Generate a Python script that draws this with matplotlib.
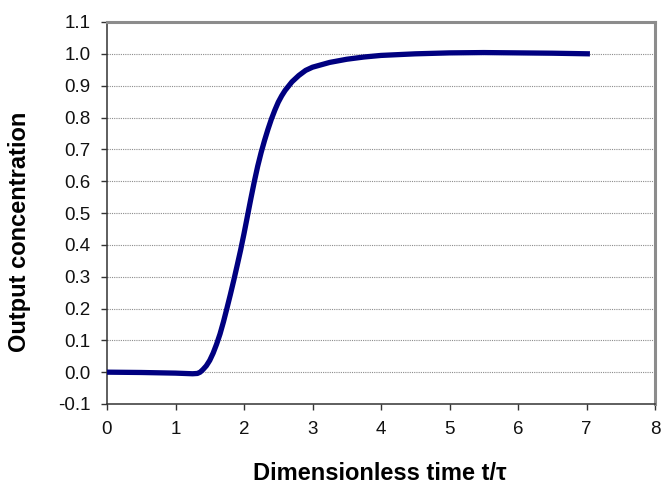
import numpy as np
import matplotlib
matplotlib.use("Agg")
import matplotlib.pyplot as plt

plt.rcParams['font.family'] = ['Liberation Sans', 'DejaVu Sans']

# dimensionless time t/tau and output concentration
t_tau = [0.0, 0.5, 1.0, 1.25, 1.32, 1.36, 1.40, 1.45, 1.50, 1.55, 1.60,
         1.65, 1.70, 1.75, 1.80, 1.85, 1.90, 1.95, 2.00, 2.05, 2.10, 2.15,
         2.20, 2.25, 2.30, 2.35, 2.40, 2.45, 2.50, 2.55, 2.60, 2.70, 2.80,
         2.90, 3.00, 3.25, 3.5, 3.75, 4.0, 4.5, 5.0, 5.5, 6.0, 6.5, 7.05]
conc = [0.0, -0.001, -0.003, -0.005, -0.004, 0.0, 0.008, 0.02, 0.037,
        0.06, 0.088, 0.12, 0.158, 0.20, 0.243, 0.288, 0.335, 0.383, 0.435,
        0.49, 0.545, 0.598, 0.647, 0.69, 0.728, 0.763, 0.795, 0.823, 0.848,
        0.868, 0.885, 0.912, 0.932, 0.948, 0.958, 0.973, 0.983, 0.99, 0.995,
        1.0, 1.003, 1.004, 1.003, 1.002, 1.0]

x_ticks = [0, 1, 2, 3, 4, 5, 6, 7, 8]
y_ticks = [-0.1, 0.0, 0.1, 0.2, 0.3, 0.4, 0.5, 0.6, 0.7, 0.8, 0.9, 1.0, 1.1]

W, H = 662, 484
fig = plt.figure(figsize=(W / 100, H / 100), dpi=100)
ax = fig.add_axes([107 / W, 1 - 404 / H, 548 / W, 382 / H])

ax.plot(t_tau, conc, color='#000080', linewidth=3.8, solid_capstyle='butt',
        solid_joinstyle='round', zorder=3)

ax.set_xlim(0, 8)
ax.set_ylim(-0.1, 1.1)
ax.set_xticks(x_ticks)
ax.set_yticks(y_ticks)
ax.set_yticklabels(["%.1f" % v for v in y_ticks])
ax.tick_params(labelsize=13.5, direction='out', length=4.5, width=1,
               color='#333333', pad=7.5, labelcolor='#111111')

# dotted gridlines, not on the border values
for v in y_ticks[1:-1]:
    ax.axhline(v, color='#8c8c8c', linewidth=0.8, linestyle=(0, (1, 1)),
               zorder=1)

ax.spines['left'].set_color('#333333')
ax.spines['bottom'].set_color('#333333')
ax.spines['left'].set_linewidth(1.1)
ax.spines['bottom'].set_linewidth(1.1)
ax.spines['top'].set_color('#8c8c8c')
ax.spines['right'].set_color('#8c8c8c')
ax.spines['top'].set_linewidth(2.2)
ax.spines['right'].set_linewidth(2.2)

fig.text(380 / W, 1 - 480 / H, 'Dimensionless time t/\u03c4', fontsize=17,
         fontweight='bold', ha='center', va='baseline')
fig.text(26 / W, 1 - 232 / H, 'Output concentration', fontsize=17,
         fontweight='bold', rotation=90, rotation_mode='anchor',
         ha='center', va='baseline')

fig.savefig('out.png', dpi=100)
